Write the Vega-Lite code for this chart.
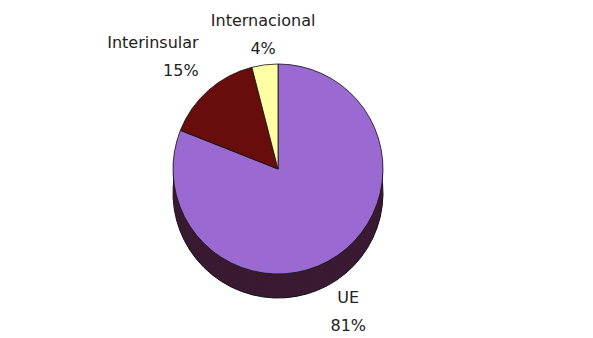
{
  "$schema": "https://vega.github.io/schema/vega-lite/v6.json",
  "width": 556,
  "height": 326,
  "autosize": {"type": "none"},
  "padding": {"left": 0, "top": 12, "right": 37, "bottom": 0},
  "background": "white",
  "config": {"view": {"stroke": null}, "text": {"font": "DejaVu Sans"}},
  "data": {"values": [
    {"category": "UE", "value": 81},
    {"category": "Interinsular", "value": 15},
    {"category": "Internacional", "value": 4}
  ]},
  "transform": [
    {"calculate": "indexof(['UE','Interinsular','Internacional'], datum.category)", "as": "rank"},
    {"calculate": "datum.category + '|' + datum.value + '%'", "as": "label"}
  ],
  "encoding": {
    "theta": {"field": "value", "type": "quantitative", "stack": true},
    "order": {"field": "rank", "type": "quantitative"}
  },
  "layer": [
    {"mark": {"type": "arc", "radius": 105, "yOffset": 18, "color": "#3a1a32", "stroke": "#111", "strokeWidth": 1}},
    {"mark": {"type": "arc", "radius": 105, "yOffset": 15, "color": "#3a1a32"}},
    {"mark": {"type": "arc", "radius": 105, "yOffset": 12, "color": "#3a1a32"}},
    {"mark": {"type": "arc", "radius": 105, "yOffset": 9, "color": "#3a1a32"}},
    {"mark": {"type": "arc", "radius": 105, "yOffset": 6, "color": "#3a1a32"}},
    {"mark": {"type": "arc", "radius": 105, "yOffset": 3, "color": "#3a1a32"}},
    {"mark": {"type": "arc", "radius": 105, "yOffset": 0, "color": "#3a1a32"}},
    {"mark": {"type": "arc", "radius": 105, "yOffset": -3, "color": "#3a1a32"}},
    {
      "mark": {"type": "arc", "radius": 105, "yOffset": -6, "stroke": "#111", "strokeWidth": 0.8},
      "encoding": {
        "color": {
          "field": "category", "type": "nominal", "legend": null,
          "scale": {"domain": ["UE", "Interinsular", "Internacional"], "range": ["#9a6ad2", "#680c0c", "#ffffa4"]}
        }
      }
    },
    {
      "mark": {"type": "text", "radius": 119, "yOffset": -6, "dy": -22, "fontSize": 16, "lineBreak": "|", "lineHeight": 28, "baseline": "bottom", "align": "center", "color": "#222"},
      "encoding": {
        "text": {"field": "label", "type": "nominal"},
        "opacity": {"condition": {"test": "datum.category == 'Internacional'", "value": 1}, "value": 0}
      }
    },
    {
      "mark": {"type": "text", "radius": 120, "yOffset": -6, "dy": -28, "fontSize": 16, "lineBreak": "|", "lineHeight": 28, "baseline": "bottom", "align": "right", "color": "#222"},
      "encoding": {
        "text": {"field": "label", "type": "nominal"},
        "opacity": {"condition": {"test": "datum.category == 'Interinsular'", "value": 1}, "value": 0}
      }
    },
    {
      "mark": {"type": "text", "radius": 125, "yOffset": 12, "fontSize": 16, "lineBreak": "|", "lineHeight": 28, "baseline": "top", "align": "center", "color": "#222"},
      "encoding": {
        "text": {"field": "label", "type": "nominal"},
        "opacity": {"condition": {"test": "datum.category == 'UE'", "value": 1}, "value": 0}
      }
    }
  ]
}
